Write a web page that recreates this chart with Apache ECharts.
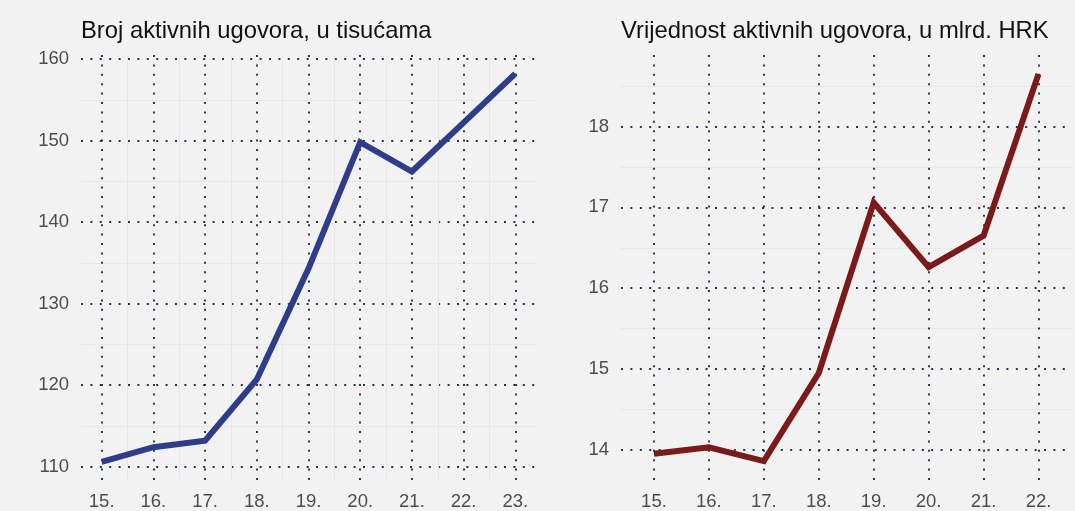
<!DOCTYPE html>
<html>
<head>
<meta charset="utf-8">
<script src="https://cdn.jsdelivr.net/npm/echarts@6/dist/echarts.min.js"></script>
<style>
  html, body { margin: 0; padding: 0; background: #f2f2f2; overflow: hidden; }
  #chart { width: 1075px; height: 511px; }
</style>
</head>
<body>
<div id="chart"></div>
<script>
// godine na x osi (oznake "15." ... "23.")
var godine = [15, 16, 17, 18, 19, 20, 21, 22, 23];
// broj aktivnih ugovora, u tisućama
var brojUgovora = [110.6, 112.4, 113.2, 120.7, 134.3, 149.8, 146.2, 152.2, 158.2];
// vrijednost aktivnih ugovora, u mlrd. HRK (23. nije u slici)
var vrijednostUgovora = [13.95, 14.03, 13.86, 14.95, 17.06, 16.26, 16.65, 18.65];
// oznake na y osima
var lijeviTickovi = [110, 120, 130, 140, 150, 160];
var desniTickovi = [14, 15, 16, 17, 18];

var font = '"Liberation Sans", Arial, sans-serif';
var tocke = { color: '#27334a', width: 1.9, type: [2, 7.4], cap: 'butt' };
var sporedne = { color: '#e7e7e7', width: 1 };

function xOs(grid, min, max, minor) {
  return {
    type: 'value', gridIndex: grid, min: min, max: max,
    splitNumber: 9, minInterval: 1, maxInterval: 1,
    axisLine: { show: false }, axisTick: { show: false },
    axisLabel: {
      margin: 11, color: '#4d4d4d', fontSize: 18.5, fontFamily: font,
      formatter: function (v) { return godine.indexOf(v) >= 0 ? v + '.' : ''; }
    },
    splitLine: { show: true, showMinLine: false, showMaxLine: false, lineStyle: tocke },
    minorTick: { show: false, splitNumber: 2 },
    minorSplitLine: { show: minor, lineStyle: sporedne }
  };
}

function yOs(grid, min, max, korak, tickovi) {
  return {
    type: 'value', gridIndex: grid, min: min, max: max,
    splitNumber: 6, minInterval: korak, maxInterval: korak,
    axisLine: { show: false }, axisTick: { show: false },
    axisLabel: {
      margin: 12, color: '#4d4d4d', fontSize: 18.5, fontFamily: font,
      formatter: function (v) { return tickovi.indexOf(v) >= 0 ? String(v) : ''; }
    },
    splitLine: { show: true, showMinLine: false, showMaxLine: false, lineStyle: tocke },
    minorTick: { show: false, splitNumber: 2 },
    minorSplitLine: { show: true, lineStyle: sporedne }
  };
}

var chart = echarts.init(document.getElementById('chart'), null, { renderer: 'canvas' });
chart.setOption({
  animation: false,
  backgroundColor: '#f2f2f2',
  title: [{
    text: 'Broj aktivnih ugovora, u tisućama',
    left: 81, top: 19, padding: 0,
    textStyle: { fontSize: 23.8, fontWeight: 'normal', color: '#111', fontFamily: font }
  }, {
    text: 'Vrijednost aktivnih ugovora, u mlrd. HRK',
    left: 621, top: 19, padding: 0,
    textStyle: { fontSize: 23.8, fontWeight: 'normal', color: '#111', fontFamily: font }
  }],
  grid: [
    { left: 81, right: 539, top: 55, bottom: 29 },
    { left: 621, right: 0, top: 55, bottom: 29 }
  ],
  xAxis: [xOs(0, 14.6, 23.4, true), xOs(1, 14.4, 22.61, false)],
  yAxis: [
    yOs(0, 108.25, 160.49, 10, lijeviTickovi),
    yOs(1, 13.614, 18.885, 1, desniTickovi)
  ],
  series: [{
    type: 'line', xAxisIndex: 0, yAxisIndex: 0,
    data: godine.map(function (g, i) { return [g, brojUgovora[i]]; }),
    showSymbol: false, symbol: 'none', silent: true,
    lineStyle: { color: '#2e3d89', width: 6, join: 'miter' }
  }, {
    type: 'line', xAxisIndex: 1, yAxisIndex: 1,
    data: vrijednostUgovora.map(function (v, i) { return [godine[i], v]; }),
    showSymbol: false, symbol: 'none', silent: true,
    lineStyle: { color: '#7a1b1a', width: 6, join: 'miter' }
  }]
});
</script>
</body>
</html>
